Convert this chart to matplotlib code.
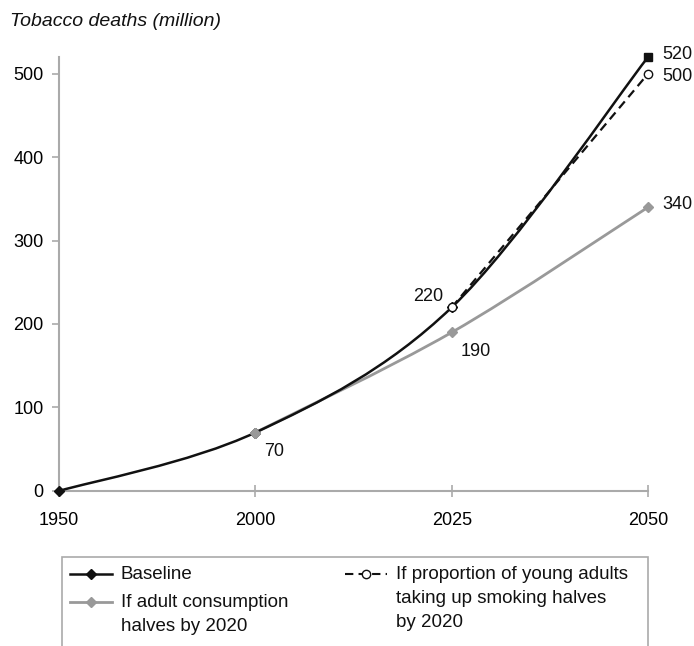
import matplotlib
matplotlib.use("Agg")
import matplotlib.pyplot as plt
from matplotlib.path import Path
from matplotlib.patches import PathPatch, Rectangle
from matplotlib.lines import Line2D
import numpy as np

plt.rcParams['font.family'] = ['Liberation Sans', 'DejaVu Sans']

years = ["1950", "2000", "2025", "2050"]
baseline = [0, 70, 220, 520]
halves_x = [1, 2, 3]
halves = [70, 190, 340]
young_x = [2, 3]
young = [220, 500]
yticks = [0, 100, 200, 300, 400, 500]
legend_labels = ["Baseline", "If adult consumption\nhalves by 2020",
                 "If proportion of young adults\ntaking up smoking halves\nby 2020"]

BLACK = "#111111"
GRAY = "#999999"
AX = "#aaaaaa"
W, H = 694, 646


def smooth_path(xs, ys):
    xs = np.asarray(xs, float); ys = np.asarray(ys, float)
    pts = np.column_stack([xs, ys])
    n = len(pts)
    verts = [pts[0]]
    codes = [Path.MOVETO]
    for i in range(n - 1):
        p0 = pts[i - 1] if i > 0 else pts[i]
        p1 = pts[i]
        p2 = pts[i + 1]
        p3 = pts[i + 2] if i + 2 < n else pts[i + 1]
        c1 = p1 + (p2 - p0) / 6.0
        c2 = p2 - (p3 - p1) / 6.0
        verts += [c1, c2, p2]
        codes += [Path.CURVE4] * 3
    return Path(verts, codes)


def fx(px):
    return px / W


def fy(py):
    return 1 - py / H


fig = plt.figure(figsize=(6.94, 6.46), dpi=100)
ax = fig.add_axes([0.085, 0.24, 0.849, 0.672])

bx = list(range(len(years)))
ax.add_patch(PathPatch(smooth_path(halves_x, halves), fill=False, edgecolor=GRAY, lw=2.0, zorder=2))
ax.add_patch(PathPatch(smooth_path(bx, baseline), fill=False, edgecolor=BLACK, lw=1.8, zorder=3))
ax.add_patch(PathPatch(smooth_path(young_x, young), fill=False, edgecolor=BLACK, lw=1.6,
                       linestyle=(0, (4, 2.5)), zorder=3))

ax.plot(bx[:-1], baseline[:-1], ls='none', marker='D', ms=5, color=BLACK, zorder=4, clip_on=False)
ax.plot(bx[-1:], baseline[-1:], ls='none', marker='s', ms=5.5, color=BLACK, zorder=5, clip_on=False)
ax.plot(halves_x, halves, ls='none', marker='D', ms=5, color=GRAY, zorder=5, clip_on=False)
ax.plot(young_x, young, ls='none', marker='o', ms=6, mfc='white', mec=BLACK, mew=1, zorder=6, clip_on=False)

ax.set_xlim(0, 3)
ax.set_ylim(0, 520)
ax.set_xticks(bx)
ax.set_xticklabels(years)
ax.set_yticks(yticks)
for s in ['top', 'right']:
    ax.spines[s].set_visible(False)
for s in ['left', 'bottom']:
    ax.spines[s].set_color(AX)
    ax.spines[s].set_linewidth(1.5)
ax.tick_params(axis='y', direction='out', length=5, color=AX, width=1.2, labelsize=13, pad=6)
ax.tick_params(axis='x', direction='inout', length=8, color=AX, width=1.2, labelsize=13, pad=11)

lab = dict(fontsize=13, color=BLACK)
ax.annotate(str(baseline[3]), (3, baseline[3]), xytext=(10, 2), textcoords='offset points', va='center', **lab)
ax.annotate(str(young[1]), (3, young[1]), xytext=(10, -2), textcoords='offset points', va='center', **lab)
ax.annotate(str(halves[2]), (3, halves[2]), xytext=(10, 2), textcoords='offset points', va='center', **lab)
ax.annotate(str(baseline[2]), (2, baseline[2]), xytext=(-6, 8), textcoords='offset points', ha='right', va='center', **lab)
ax.annotate(str(halves[1]), (2, halves[1]), xytext=(6, -14), textcoords='offset points', ha='left', va='center', **lab)
ax.annotate(str(baseline[1]), (1, baseline[1]), xytext=(6, -14), textcoords='offset points', ha='left', va='center', **lab)

fig.text(0.014, 0.966, "Tobacco deaths (million)", fontsize=14, style='italic', color=BLACK, va='center')

# legend, drawn by hand so multi-line entries align at the top
fig.add_artist(Rectangle((fx(62), fy(660)), fx(648) - fx(62), fy(557) - fy(660),
                         transform=fig.transFigure, fill=False, edgecolor=AX, lw=1.2))
styles = [
    dict(color=BLACK, lw=1.8, marker='D', ms=5, mfc=BLACK, mec=BLACK),
    dict(color=GRAY, lw=2.0, marker='D', ms=5, mfc=GRAY, mec=GRAY),
    dict(color=BLACK, lw=1.5, ls=(0, (4, 2.5)), marker='o', ms=6, mfc='white', mec=BLACK),
]
positions = [(70, 574), (70, 602), (345, 574)]
for st, (px, py), text in zip(styles, positions, legend_labels):
    fig.add_artist(Line2D([fx(px), fx(px + 42)], [fy(py), fy(py)], transform=fig.transFigure,
                          color=st['color'], lw=st['lw'], ls=st.get('ls', '-')))
    fig.add_artist(Line2D([fx(px + 21)], [fy(py)], transform=fig.transFigure, ls='none',
                          marker=st['marker'], ms=st['ms'], mfc=st['mfc'], mec=st['mec']))
    fig.text(fx(px + 51), fy(py - 8), text, fontsize=13.5, color=BLACK, va='top', ha='left',
             linespacing=1.55)

fig.savefig("out.png", dpi=100)
